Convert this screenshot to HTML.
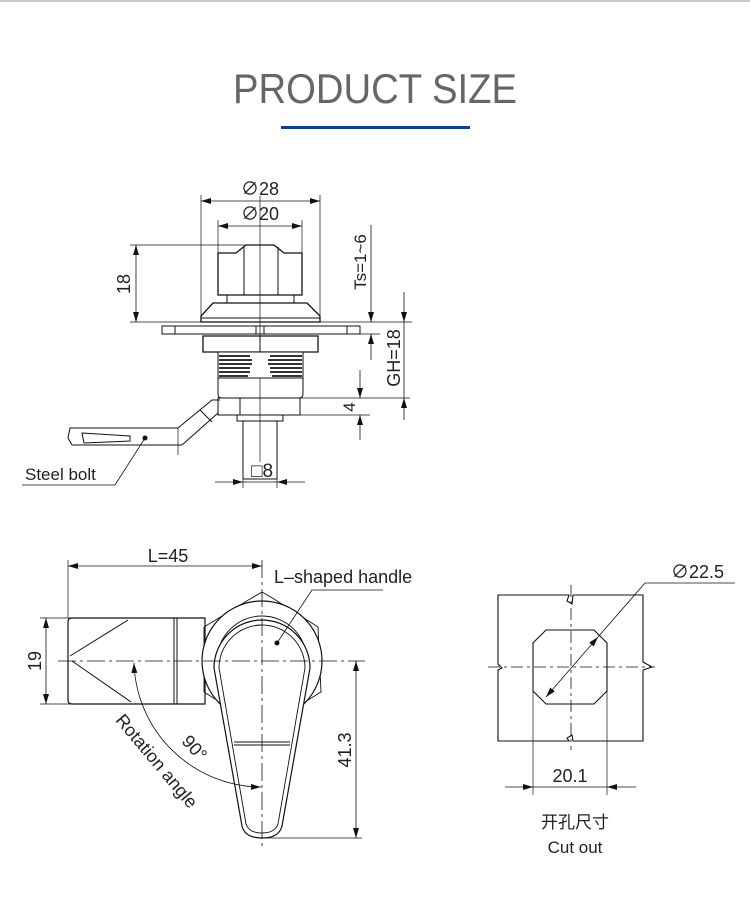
<!DOCTYPE html>
<html><head><meta charset="utf-8"><style>
html,body{margin:0;padding:0;background:#fff;}
svg{display:block;}
text{font-family:"Liberation Sans","Noto Sans CJK SC",sans-serif;fill:#222;}
</style></head><body>
<svg width="750" height="912" viewBox="0 0 750 912" xmlns="http://www.w3.org/2000/svg">
<defs>
<marker id="a" markerWidth="10" markerHeight="6" refX="10" refY="3" orient="auto-start-reverse" markerUnits="userSpaceOnUse"><path d="M0,0 L10,3 L0,6 z" fill="#111"/></marker>
</defs>
<rect x="0" y="0" width="750" height="2" fill="#c8c8cc"/>
<text x="375" y="103" font-size="42" text-anchor="middle" textLength="284" lengthAdjust="spacingAndGlyphs" style="fill:#666">PRODUCT SIZE</text>
<rect x="281" y="126" width="189" height="3" fill="#0d3f8f"/>

<g stroke="#111" fill="none" stroke-width="1">
<line x1="260" y1="196" x2="260" y2="462" stroke-width="0.7"/>
<path d="M218,295 L218,253 L236,253 L246,245 L274,245 L284,253 L302,253 L302,295 Z" stroke-width="1.3"/>
<line x1="244" y1="247" x2="244" y2="295"/><line x1="278" y1="247" x2="278" y2="295"/>
<rect x="227" y="295" width="67" height="8"/>
<path d="M213,303 L307,303 L320,316 L320,322 L201,322 L201,316 Z" stroke-width="1.3"/>
<line x1="201" y1="318" x2="320" y2="318"/>
<rect x="162" y="326" width="198" height="8"/>
<line x1="175" y1="326" x2="175" y2="334"/><line x1="347" y1="326" x2="347" y2="334"/>
<rect x="256" y="326" width="8" height="8"/>
<path d="M203,336 L318,336 L318,352 L203,352 Z" stroke-width="1.3"/>
<line x1="260" y1="336" x2="260" y2="352"/>
<rect x="218" y="352" width="85" height="26" fill="#fff"/>
<g stroke="#333" stroke-width="2">
<line x1="219" y1="356" x2="250" y2="356"/><line x1="219" y1="360" x2="252" y2="360"/><line x1="219" y1="364" x2="252" y2="364"/><line x1="219" y1="368" x2="250" y2="368"/><line x1="219" y1="372" x2="250" y2="372"/><line x1="219" y1="376" x2="248" y2="376"/>
<line x1="270" y1="356" x2="302" y2="356"/><line x1="268" y1="360" x2="302" y2="360"/><line x1="268" y1="364" x2="302" y2="364"/><line x1="270" y1="368" x2="302" y2="368"/><line x1="270" y1="372" x2="302" y2="372"/><line x1="272" y1="376" x2="302" y2="376"/>
</g>
<path d="M218,378 L218,394 Q218,398 222,398 L299,398 Q303,398 303,394 L303,378"/>
<rect x="218" y="398" width="82" height="17"/>
<line x1="240" y1="398" x2="240" y2="415"/>
<rect x="237" y="415" width="46" height="6"/>
<rect x="243" y="421" width="34" height="58"/>
<path d="M220,400 L212,400 L178,428 L70,428 L68,438 L72,445 L182,445 L218,413"/>
<line x1="200" y1="410" x2="212" y2="422"/>
<path d="M82,433 L130,436 L130,441 L84,443 Z"/>
<line x1="178" y1="428" x2="178" y2="455" stroke-width="0.7"/>
<circle cx="145" cy="438" r="2" fill="#111"/>
<path d="M145,438 L115,485 L22,485" stroke-width="0.8"/>
<line x1="201" y1="195" x2="201" y2="318" stroke-width="0.7"/><line x1="320" y1="195" x2="320" y2="318" stroke-width="0.7"/>
<line x1="201" y1="201" x2="320" y2="201" marker-start="url(#a)" marker-end="url(#a)" stroke-width="0.8"/>
<line x1="218" y1="220" x2="218" y2="253" stroke-width="0.7"/><line x1="302" y1="220" x2="302" y2="253" stroke-width="0.7"/>
<line x1="218" y1="226" x2="302" y2="226" marker-start="url(#a)" marker-end="url(#a)" stroke-width="0.8"/>
<line x1="130" y1="245" x2="246" y2="245" stroke-width="0.7"/><line x1="130" y1="322" x2="201" y2="322" stroke-width="0.7"/>
<line x1="136" y1="245" x2="136" y2="322" marker-start="url(#a)" marker-end="url(#a)" stroke-width="0.8"/>
<line x1="320" y1="322" x2="412" y2="322" stroke-width="0.7"/><line x1="360" y1="334" x2="380" y2="334" stroke-width="0.7"/>
<line x1="371" y1="225" x2="371" y2="322" marker-end="url(#a)" stroke-width="0.8"/>
<line x1="371" y1="334" x2="371" y2="360" marker-start="url(#a)" stroke-width="0.8"/>
<line x1="404" y1="292" x2="404" y2="322" marker-end="url(#a)" stroke-width="0.8"/>
<line x1="404" y1="322" x2="404" y2="398" stroke-width="0.8"/>
<line x1="404" y1="398" x2="404" y2="420" marker-start="url(#a)" stroke-width="0.8"/>
<line x1="300" y1="398" x2="410" y2="398" stroke-width="0.7"/>
<line x1="300" y1="415" x2="370" y2="415" stroke-width="0.7"/>
<line x1="360" y1="370" x2="360" y2="398" marker-end="url(#a)" stroke-width="0.8"/>
<line x1="360" y1="415" x2="360" y2="440" marker-start="url(#a)" stroke-width="0.8"/>
<line x1="243" y1="479" x2="243" y2="488" stroke-width="0.7"/><line x1="277" y1="479" x2="277" y2="488" stroke-width="0.7"/>
<line x1="215" y1="482" x2="243" y2="482" marker-end="url(#a)" stroke-width="0.8"/>
<line x1="305" y1="482" x2="277" y2="482" marker-end="url(#a)" stroke-width="0.8"/>
<line x1="243" y1="482" x2="277" y2="482" stroke-width="0.8"/>
</g>
<text x="260" y="195" font-size="18" text-anchor="middle">∅28</text>
<text x="260" y="220" font-size="18" text-anchor="middle">∅20</text>
<text x="131" y="284" font-size="18" text-anchor="middle" transform="rotate(-90 131 284)" dy="-1">18</text>
<text x="366" y="262" font-size="17" text-anchor="middle" transform="rotate(-90 366 262)">Ts=1~6</text>
<text x="400" y="358" font-size="18" text-anchor="middle" transform="rotate(-90 400 358)">GH=18</text>
<text x="355" y="407" font-size="17" text-anchor="middle" transform="rotate(-90 355 407)">4</text>
<text x="262" y="477" font-size="19" text-anchor="middle">□8</text>
<text x="25" y="480" font-size="17">Steel bolt</text>

<g stroke="#111" fill="none" stroke-width="1">
<path d="M72,618 L205,618 L205,704 L72,704 Q68,704 68,700 L68,622 Q68,618 72,618 Z" stroke-width="1.2"/>
<line x1="174" y1="618" x2="174" y2="704"/><line x1="177" y1="618" x2="177" y2="704"/>
<line x1="70" y1="656" x2="128" y2="620"/><line x1="72" y1="661" x2="131" y2="702"/>
<path d="M250,599 L262,592 L274,599 L318,627 L321,692 L274,721 L250,721 L204,692 L204,627 Z" stroke-width="0.9"/>
<circle cx="262" cy="661" r="60" fill="#fff" stroke-width="1.2"/>
<circle cx="262" cy="661" r="45" stroke-width="0.9"/>
<path d="M214,668 A48,48 0 1 1 310,668 L282,826 Q279,838 262,838 Q245,838 242,826 Z" fill="#fff" stroke-width="1.2"/>
<path d="M219,668 A43,43 0 1 1 305,668 L278,824 Q275,833 262,833 Q249,833 246,824 Z" stroke-width="0.9"/>
<line x1="234" y1="742" x2="290" y2="742"/><line x1="234" y1="745" x2="290" y2="745"/>
<line x1="58" y1="661" x2="365" y2="661" stroke-dasharray="18,4,3,4" stroke-width="0.8"/>
<line x1="262" y1="560" x2="262" y2="850" stroke-dasharray="18,4,3,4" stroke-width="0.8"/>
<line x1="68" y1="560" x2="68" y2="618" stroke-width="0.7"/>
<line x1="68" y1="566" x2="262" y2="566" marker-start="url(#a)" marker-end="url(#a)" stroke-width="0.8"/>
<line x1="40" y1="618" x2="72" y2="618" stroke-width="0.7"/><line x1="40" y1="704" x2="72" y2="704" stroke-width="0.7"/>
<line x1="46" y1="618" x2="46" y2="704" marker-start="url(#a)" marker-end="url(#a)" stroke-width="0.8"/>
<line x1="262" y1="838" x2="362" y2="838" stroke-width="0.7"/>
<line x1="356" y1="661" x2="356" y2="838" marker-start="url(#a)" marker-end="url(#a)" stroke-width="0.8"/>
<path d="M134,663 A128,128 0 0 0 261,787" marker-start="url(#a)" marker-end="url(#a)" stroke-width="0.8"/>
<circle cx="277" cy="643" r="2" fill="#111"/>
<path d="M277,643 L312,590 L383,590" stroke-width="0.8"/>
</g>
<text x="168" y="562" font-size="18" text-anchor="middle">L=45</text>
<text x="274" y="583" font-size="18">L–shaped handle</text>
<text x="41" y="661" font-size="18" text-anchor="middle" transform="rotate(-90 41 661)">19</text>
<text x="351" y="750" font-size="18" text-anchor="middle" transform="rotate(-90 351 750)">41.3</text>
<text x="190" y="752" font-size="18" text-anchor="middle" transform="rotate(48 190 752)">90°</text>
<text x="152" y="765" font-size="18" text-anchor="middle" transform="rotate(50 152 765)">Rotation angle</text>

<g stroke="#111" fill="none" stroke-width="1">
<path d="M498,595 L569,595 L567,601 L572,604 L573,595 L643,595 L643,662 L652,667 L643,670 L643,741 L573,741 L572,735 L567,738 L569,741 L498,741 L498,670 L502,668 L498,664 Z" stroke-width="1.1"/>
<path d="M546,630 L594,630 L607,643 L607,691 L594,704 L546,704 L533,691 L533,643 Z" stroke-width="1.1"/>
<line x1="488" y1="667" x2="655" y2="667" stroke-dasharray="12,4,3,4" stroke-width="0.8"/>
<line x1="571" y1="585" x2="571" y2="750" stroke-dasharray="12,4,3,4" stroke-width="0.8"/>
<line x1="546" y1="697" x2="598" y2="637" marker-start="url(#a)" marker-end="url(#a)" stroke-width="0.8"/>
<path d="M598,637 L645,583 L735,583" stroke-width="0.8"/>
<line x1="533" y1="691" x2="533" y2="795" stroke-width="0.7"/><line x1="607" y1="691" x2="607" y2="795" stroke-width="0.7"/>
<line x1="505" y1="787" x2="533" y2="787" marker-end="url(#a)" stroke-width="0.8"/>
<line x1="636" y1="787" x2="607" y2="787" marker-end="url(#a)" stroke-width="0.8"/>
<line x1="533" y1="787" x2="607" y2="787" stroke-width="0.8"/>
</g>
<text x="671" y="578" font-size="18">∅22.5</text>
<text x="570" y="782" font-size="18" text-anchor="middle">20.1</text>
<text x="575" y="828" font-size="17" text-anchor="middle">开孔尺寸</text>
<text x="575" y="853" font-size="17" text-anchor="middle">Cut out</text>
</svg>
</body></html>
